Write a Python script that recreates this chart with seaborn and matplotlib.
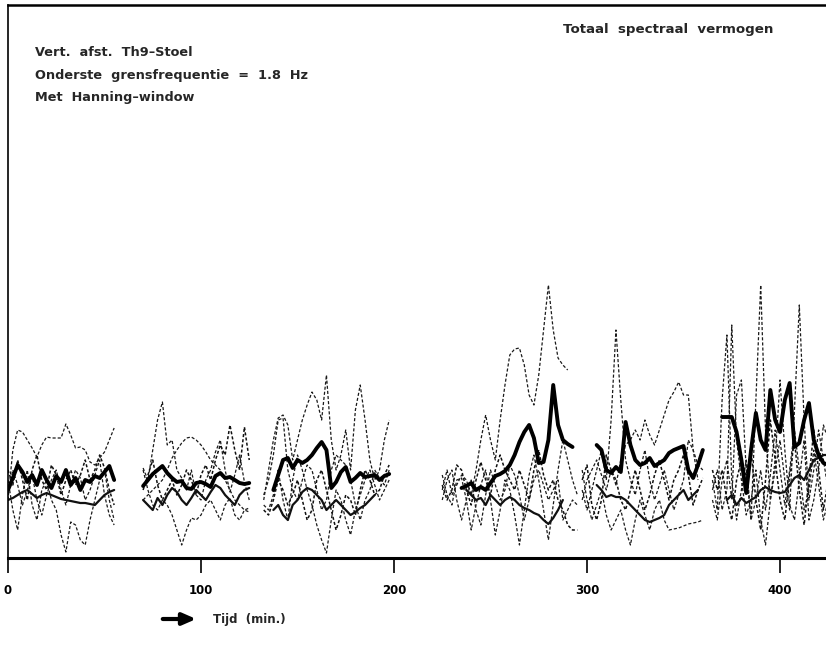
import numpy as np
import pandas as pd
import matplotlib
matplotlib.use("Agg")
import matplotlib.pyplot as plt
import seaborn as sns

nan = np.nan

# ---------------- data (relative spectral power, arbitrary units; time in minutes) ----------------
seg1_t = [0, 2.5, 5, 7.5, 10, 12.5, 15, 17.5, 20, 22.5, 25, 27.5, 30, 32.5, 35, 37.5, 40, 42.5, 45, 47.5, 50, 52.5, 55]
seg1_mean = [67, 79, 92, 85, 75, 82, 72, 87, 77, 69, 81, 75, 87, 72, 79, 67, 77, 75, 81, 79, 85, 91, 77]
seg1_low = [57, 59, 62, 65, 67, 63, 59, 62, 64, 62, 60, 58, 57, 56, 55, 54, 54, 53, 52, 57, 62, 65, 67]
seg1_a = [57, 107, 127, 125, 117, 109, 100, 112, 120, 119, 119, 119, 133, 122, 109, 110, 107, 95, 92, 99, 105, 117, 129]
seg1_b = [77, 47, 27, 62, 87, 52, 37, 67, 77, 57, 47, 22, 5, 35, 32, 17, 12, 37, 57, 77, 87, 57, 37]
seg1_c = [62, 87, 72, 52, 67, 82, 57, 42, 62, 77, 87, 67, 52, 72, 87, 79, 57, 67, 82, 97, 62, 42, 32]
seg1_e = [87, 72, 97, 77, 57, 87, 102, 77, 67, 92, 82, 62, 77, 87, 72, 82, 97, 77, 87, 102, 89, 67, 52]

seg2_t = [70, 72.5, 75, 77.5, 80, 82.5, 85, 87.5, 90, 92.5, 95, 97.5, 100, 102.5, 105, 107.5, 110, 112.5, 115, 117.5, 120, 122.5, 125]
seg2_mean = [71, 77, 83, 87, 91, 84, 79, 75, 76, 69, 68, 74, 75, 73, 70, 81, 84, 79, 80, 77, 74, 73, 74]
seg2_low = [57, 52, 47, 59, 52, 62, 69, 65, 57, 52, 59, 67, 62, 57, 65, 72, 69, 62, 57, 52, 62, 67, 69]
seg2_a = [89, 77, 107, 137, 155, 112, 117, 87, 79, 67, 87, 62, 57, 77, 87, 105, 117, 87, 65, 82, 102, 75, 57]
seg2_b = [57, 62, 67, 72, 77, 87, 99, 107, 114, 119, 120, 117, 112, 105, 97, 92, 87, 77, 67, 57, 52, 47, 45]
seg2_c = [87, 67, 52, 47, 57, 52, 42, 27, 12, 27, 39, 37, 42, 52, 57, 47, 37, 52, 59, 42, 37, 47, 49]
seg2_e = [67, 82, 97, 72, 57, 67, 77, 62, 72, 87, 77, 62, 82, 92, 77, 97, 112, 102, 132, 107, 87, 130, 97]

seg3_t = [132.5, 135, 137.5, 140, 142.5, 145, 147.5, 150, 152.5, 155, 157.5, 160, 162.5, 165, 167.5, 170, 172.5, 175, 177.5, 180, 182.5, 185, 187.5, 190, 192.5, 195, 197.5]
seg3_mean = [nan, nan, 67, 82, 97, 99, 89, 97, 94, 97, 102, 109, 115, 107, 69, 75, 85, 90, 75, 79, 84, 80, 81, 82, 77, 81, 83]
seg3_low = [nan, nan, 47, 52, 42, 37, 52, 57, 65, 69, 67, 62, 57, 47, 52, 57, 52, 47, 42, 45, 49, 52, 57, 62, nan, nan, nan]
seg3_a = [57, 87, 117, 139, 142, 132, 97, 117, 137, 152, 165, 157, 137, 182, 117, 87, 102, 127, 87, 147, 172, 137, 97, 77, 87, 117, 137]
seg3_b = [52, 47, 62, 87, 57, 37, 77, 102, 87, 67, 52, 32, 17, 4, 37, 67, 57, 37, 22, 47, 62, 77, 87, 72, 57, 67, 77]
seg3_c = [62, 77, 102, 137, 139, 87, 67, 57, 77, 92, 87, 67, 47, 57, 87, 102, 97, 92, 77, 52, 37, 57, 67, 87, 79, 72, 87]
seg3_e = [47, 42, 57, 77, 67, 52, 62, 77, 57, 37, 47, 77, 87, 67, 47, 27, 42, 62, 57, 42, 67, 87, 77, 62, 67, 82, 92]

seg4_t = [225, 227.5, 230, 232.5, 235, 237.5, 240, 242.5, 245, 247.5, 250, 252.5, 255, 257.5, 260, 262.5, 265, 267.5, 270, 272.5, 275, 277.5, 280, 282.5, 285, 287.5, 290, 292.5, 295]
seg4_mean = [nan, nan, nan, nan, 69, 71, 74, 67, 70, 67, 74, 81, 83, 86, 92, 102, 115, 125, 132, 119, 94, 95, 117, 172, 132, 117, 113, 110, nan]
seg4_low = [nan, nan, nan, nan, nan, 67, 62, 57, 59, 52, 62, 57, 52, 57, 60, 57, 52, 49, 47, 44, 42, 37, 33, 39, 47, 57, nan, nan, nan]
seg4_a = [67, 87, 62, 72, 82, 77, 62, 87, 117, 142, 117, 97, 137, 172, 202, 208, 209, 192, 162, 152, 182, 227, 272, 227, 199, 192, 187, nan, nan]
seg4_b = [82, 62, 52, 77, 79, 57, 27, 52, 72, 87, 57, 22, 47, 77, 67, 42, 12, 47, 82, 102, 77, 47, 17, 52, 87, 117, 97, 77, 62]
seg4_c = [57, 77, 87, 57, 37, 57, 77, 47, 32, 62, 87, 72, 57, 67, 92, 82, 62, 37, 57, 77, 87, 72, 57, 67, 77, 37, 47, 57, 52]
seg4_e = [72, 57, 67, 92, 87, 67, 52, 77, 95, 77, 62, 87, 102, 87, 77, 67, 87, 72, 57, 87, 107, 82, 67, 77, 57, 47, 32, 27, 27]

seg5_t = [297.5, 300, 302.5, 305, 307.5, 310, 312.5, 315, 317.5, 320, 322.5, 325, 327.5, 330, 332.5, 335, 337.5, 340, 342.5, 345, 347.5, 350, 352.5, 355, 357.5, 360]
seg5_mean = [nan, nan, nan, 112, 107, 87, 84, 90, 85, 135, 112, 97, 92, 94, 99, 91, 94, 97, 104, 107, 109, 111, 87, 79, 92, 107]
seg5_low = [nan, nan, nan, 72, 67, 60, 62, 60, 60, 57, 52, 47, 42, 37, 35, 37, 39, 42, 52, 57, 62, 67, 57, 62, 67, nan]
seg5_a = [67, 47, 67, 87, 107, 77, 137, 227, 157, 97, 77, 62, 87, 107, 77, 57, 72, 87, 67, 47, 62, 77, 117, 107, 92, 87]
seg5_b = [57, 77, 87, 97, 82, 67, 87, 72, 97, 112, 117, 127, 117, 137, 122, 112, 127, 142, 157, 165, 175, 162, 162, 107, 77, nan]
seg5_c = [87, 57, 37, 52, 67, 42, 27, 37, 47, 27, 12, 37, 57, 42, 27, 47, 57, 37, 27, 28, 29, 31, 33, 34, 35, 37]
seg5_e = [77, 92, 52, 37, 57, 102, 87, 77, 57, 47, 67, 87, 67, 47, 62, 82, 97, 77, 57, 77, 87, 102, 82, 52, 67, 79]

seg6_t = [365, 367.5, 370, 372.5, 375, 377.5, 380, 382.5, 385, 387.5, 390, 392.5, 395, 397.5, 400, 402.5, 405, 407.5, 410, 412.5, 415, 417.5, 420, 422.5, 425]
seg6_mean = [nan, nan, 140, 140, 140, 125, 97, 64, 107, 144, 117, 107, 167, 137, 125, 157, 174, 110, 114, 137, 154, 117, 102, 94, 92]
seg6_low = [nan, nan, nan, 57, 62, 52, 59, 54, 57, 60, 67, 70, 67, 65, 64, 65, 72, 79, 82, 77, 87, 97, 99, 102, 102]
seg6_a = [77, 47, 157, 222, 77, 37, 67, 97, 37, 157, 272, 127, 57, 87, 117, 77, 47, 147, 252, 137, 57, 87, 127, 97, 67]
seg6_b = [67, 87, 47, 67, 232, 117, 77, 42, 57, 87, 37, 12, 57, 97, 177, 107, 52, 37, 77, 117, 37, 57, 87, 132, 117]
seg6_c = [57, 37, 77, 97, 57, 162, 177, 87, 37, 57, 87, 47, 82, 127, 87, 52, 87, 127, 87, 47, 67, 107, 72, 37, 57]
seg6_e = [87, 67, 87, 57, 37, 77, 97, 82, 107, 57, 27, 77, 137, 97, 57, 37, 82, 117, 67, 32, 77, 127, 87, 47, 77]

x_ticks = [0, 100, 200, 300, 400]
title_right = "Totaal  spectraal  vermogen"
info_lines = ["Vert.  afst.  Th9\u2013Stoel",
              "Onderste  grensfrequentie  =  1.8  Hz",
              "Met  Hanning\u2013window"]
x_label = "Tijd  (min.)"

# ---------------- build long table ----------------
segments = [
    (seg1_t, dict(mean=seg1_mean, low=seg1_low, a=seg1_a, b=seg1_b, c=seg1_c, e=seg1_e)),
    (seg2_t, dict(mean=seg2_mean, low=seg2_low, a=seg2_a, b=seg2_b, c=seg2_c, e=seg2_e)),
    (seg3_t, dict(mean=seg3_mean, low=seg3_low, a=seg3_a, b=seg3_b, c=seg3_c, e=seg3_e)),
    (seg4_t, dict(mean=seg4_mean, low=seg4_low, a=seg4_a, b=seg4_b, c=seg4_c, e=seg4_e)),
    (seg5_t, dict(mean=seg5_mean, low=seg5_low, a=seg5_a, b=seg5_b, c=seg5_c, e=seg5_e)),
    (seg6_t, dict(mean=seg6_mean, low=seg6_low, a=seg6_a, b=seg6_b, c=seg6_c, e=seg6_e)),
]
rows = []
for si, (t, series) in enumerate(segments):
    for name, vals in series.items():
        for tt, vv in zip(t, vals):
            rows.append((si, name, tt, vv))
df = pd.DataFrame(rows, columns=["seg", "series", "t", "v"]).dropna()

# ---------------- draw ----------------
sns.set_style("white")
plt.rcParams["font.family"] = ["DejaVu Sans"]

fig = plt.figure(figsize=(8.26, 6.48), dpi=100)
ax = fig.add_axes([8 / 826, 90 / 648, 1 - 8 / 826, 553 / 648])

styles = {
    "a": dict(lw=0.9, ls=(0, (2.5, 1.6)), color="#1a1a1a"),
    "b": dict(lw=0.9, ls=(0, (2.5, 1.6)), color="#1a1a1a"),
    "c": dict(lw=0.9, ls=(0, (2.5, 1.6)), color="#1a1a1a"),
    "e": dict(lw=1.1, ls=(0, (2.0, 1.4)), color="#111111"),
    "low": dict(lw=1.6, ls="-", color="#111111"),
    "mean": dict(lw=2.8, ls="-", color="black"),
}
order = ["a", "b", "c", "e", "low", "mean"]
for si in range(len(segments)):
    for name in order:
        sub = df[(df.seg == si) & (df.series == name)]
        st = styles[name]
        sns.lineplot(data=sub, x="t", y="v", ax=ax, estimator=None, sort=False,
                     color=st["color"], linewidth=st["lw"], linestyle=st["ls"],
                     legend=False)

ax.set_xlim(0, (826 - 8) / 1.93)
ax.set_ylim(-1, 552)
ax.set_yticks([])
ax.set_xticks(x_ticks)
ax.set_xticklabels([str(v) for v in x_ticks], fontsize=8.5, fontweight="bold")
ax.tick_params(axis="x", bottom=True, direction="out", length=11, width=1.2,
               pad=8, colors="black")
ax.set_xlabel("")
ax.set_ylabel("")
for side in ["top", "left", "bottom"]:
    ax.spines[side].set_visible(True)
    ax.spines[side].set_color("black")
ax.spines["top"].set_linewidth(1.8)
ax.spines["left"].set_linewidth(1.2)
ax.spines["bottom"].set_linewidth(2.2)
ax.spines["right"].set_visible(False)

# texts (figure pixel coordinates, origin bottom-left)
fig.text(563 / 826, 1 - 30 / 648, title_right, fontsize=9.6, fontweight="bold",
         va="center", ha="left")
for i, (line, yy) in enumerate(zip(info_lines, [53, 76, 98])):
    fig.text(35 / 826, 1 - yy / 648, line, fontsize=9.3, fontweight="bold",
             va="center", ha="left")

ax.annotate("", xy=(199, 648 - 619), xytext=(160, 648 - 619),
            xycoords="figure pixels", textcoords="figure pixels",
            arrowprops=dict(arrowstyle="-|>,head_length=0.8,head_width=0.35",
                            lw=3.0, color="black"))
fig.text(213 / 826, 1 - 619 / 648, x_label, fontsize=8.5, fontweight="bold",
         va="center", ha="left")

fig.savefig("out.png", dpi=100)
